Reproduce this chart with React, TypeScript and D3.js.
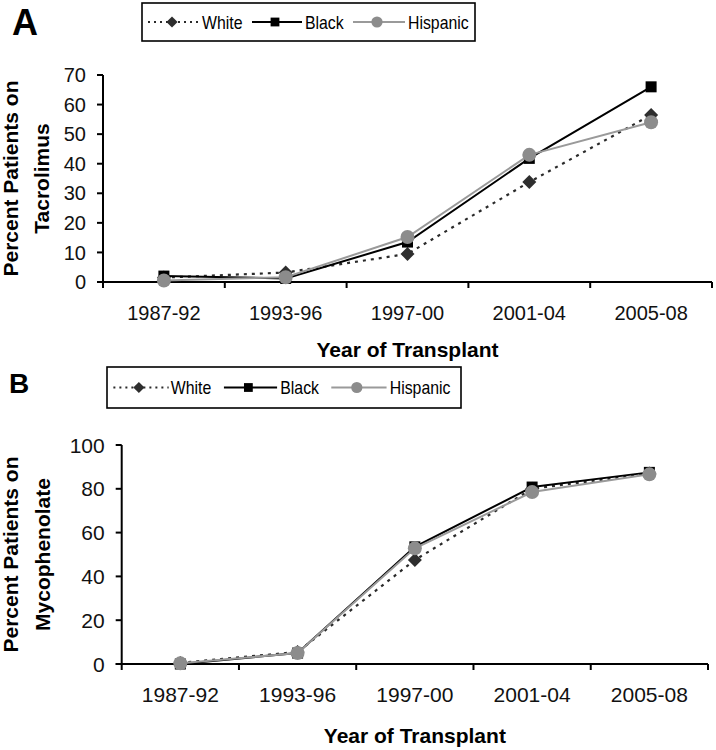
import React from "react";
import * as d3 from "d3";

const categories = ["1987-92", "1993-96", "1997-00", "2001-04", "2005-08"];
const seriesNames = ["White", "Black", "Hispanic"];

// Panel A: Tacrolimus
const tacWhite = [1.5, 3.2, 9.5, 33.8, 56.5];
const tacBlack = [2.0, 1.2, 13.5, 41.8, 66];
const tacHispanic = [0.5, 1.6, 15.2, 43, 54];
const tacTicks = [0, 10, 20, 30, 40, 50, 60, 70];

// Panel B: Mycophenolate
const mycWhite = [0.5, 5.5, 47.5, 80, 87];
const mycBlack = [0, 5, 53.5, 80.8, 87.5];
const mycHispanic = [0.3, 5, 52.8, 78.5, 86.6];
const mycTicks = [0, 20, 40, 60, 80, 100];

const FONT = "'Liberation Sans', Arial, Helvetica, sans-serif";

type Style = { stroke: string; dash?: string; width: number; marker: "diamond" | "square" | "circle"; fill: string };
const styles: Style[] = [
  { stroke: "#2a2a2a", dash: "3,5", width: 2.2, marker: "diamond", fill: "#2e2e2e" },
  { stroke: "#000000", width: 2, marker: "square", fill: "#000000" },
  { stroke: "#9a9a9a", width: 2, marker: "circle", fill: "#8c8c8c" },
];

function Marker({ kind, x, y, fill, s = 1 }: { kind: string; x: number; y: number; fill: string; s?: number }) {
  if (kind === "diamond") {
    const r = 7 * s;
    return <path d={`M${x},${y - r}L${x + r},${y}L${x},${y + r}L${x - r},${y}Z`} fill={fill} />;
  }
  if (kind === "square") {
    const h = 5.5 * s;
    return <rect x={x - h} y={y - h} width={2 * h} height={2 * h} fill={fill} />;
  }
  return <circle cx={x} cy={y} r={7 * s} fill={fill} />;
}

function Legend({ x, y, w, h, sx }: { x: number; y: number; w: number; h: number; sx: number }) {
  const ly = h / 2;
  const entries = [
    { l0: 6, l1: 58, m: 30, t: 60 },
    { l0: 110, l1: 160, m: 133, t: 163 },
    { l0: 211, l1: 263, m: 235, t: 266 },
  ];
  return (
    <g transform={`translate(${x},${y})`}>
      <rect x={0} y={0} width={w} height={h} fill="white" stroke="#000" strokeWidth={1.6} />
      {entries.map((e, i) => {
        const st = styles[i];
        return (
          <g key={i}>
            <line x1={e.l0 * sx} x2={e.l1 * sx} y1={ly} y2={ly} stroke={st.stroke} strokeWidth={st.width}
              strokeDasharray={st.dash ? "2,4" : undefined} />
            <Marker kind={st.marker} x={e.m * sx} y={ly} fill={st.fill} s={0.8} />
            <text transform={`translate(${e.t * sx},${ly + 6.5}) scale(0.88,1)`} fontSize={18} fontFamily={FONT} fill="#000">
              {seriesNames[i]}
            </text>
          </g>
        );
      })}
    </g>
  );
}

function Panel(props: {
  left: number; right: number; top: number; bottom: number; yMax: number; ticks: number[];
  series: number[][]; titleLines: string[]; tickFont: number; xTitleY: number; yTitleX: number[];
  letter: string; letterX: number; letterY: number; letterSize: number;
}) {
  const { left, right, top, bottom, yMax, ticks, series, titleLines, tickFont, xTitleY, yTitleX } = props;
  const x = d3.scaleBand<string>().domain(categories).range([left, right]).paddingInner(0).paddingOuter(0);
  const y = d3.scaleLinear().domain([0, yMax]).range([bottom, top]);
  const cx = (c: string) => (x(c) as number) + x.bandwidth() / 2;
  const line = d3.line<number>().x((_, i) => cx(categories[i])).y((v) => y(v));
  const boundaries = [...categories.map((c) => x(c) as number), right];
  const midY = (top + bottom) / 2;
  return (
    <g>
      <text x={props.letterX} y={props.letterY} fontSize={props.letterSize} fontWeight="bold" fontFamily={FONT}>{props.letter}</text>
      <line x1={left} x2={left} y1={top} y2={bottom} stroke="#000" strokeWidth={2} />
      {ticks.map((t) => (
        <g key={t}>
          <line x1={left - 6} x2={left} y1={y(t)} y2={y(t)} stroke="#000" strokeWidth={2} />
          <text x={left - 17} y={y(t)} dy="0.36em" textAnchor="end" fontSize={tickFont} fontFamily={FONT} fill="#111">{t}</text>
        </g>
      ))}
      <line x1={left - 6} x2={right} y1={bottom} y2={bottom} stroke="#000" strokeWidth={2} />
      {boundaries.map((b, i) => (
        <line key={i} x1={b} x2={b} y1={bottom} y2={bottom + 6} stroke="#000" strokeWidth={2} />
      ))}
      {categories.map((c) => (
        <text key={c} x={cx(c)} y={bottom + 38} textAnchor="middle" fontSize={tickFont} fontFamily={FONT} fill="#111">{c}</text>
      ))}
      <text x={(left + right) / 2} y={xTitleY} textAnchor="middle" fontSize={21} fontWeight="bold" fontFamily={FONT}>Year of Transplant</text>
      {titleLines.map((t, i) => (
        <text key={i} transform={`translate(${yTitleX[i]},${midY}) rotate(-90)`} textAnchor="middle" fontSize={21} fontWeight="bold" fontFamily={FONT}>{t}</text>
      ))}
      {series.map((vals, si) => {
        const st = styles[si];
        return (
          <g key={si}>
            <path d={line(vals) || ""} fill="none" stroke={st.stroke} strokeWidth={st.width} strokeDasharray={st.dash} />
            {vals.map((v, i) => (
              <Marker key={i} kind={st.marker} x={cx(categories[i])} y={y(v)} fill={st.fill} />
            ))}
          </g>
        );
      })}
    </g>
  );
}

export default function App() {
  return (
    <svg width={716} height={750} viewBox="0 0 716 750" style={{ position: "absolute", left: 0, top: 0, background: "#fff" }}>
      <rect x={0} y={0} width={716} height={750} fill="#fff" />
      <Panel left={103} right={712} top={75} bottom={282} yMax={70} ticks={tacTicks}
        series={[tacWhite, tacBlack, tacHispanic]} titleLines={["Percent Patients on", "Tacrolimus"]}
        tickFont={20} xTitleY={357} yTitleX={[18, 49]}
        letter="A" letterX={12} letterY={35} letterSize={36} />
      <Legend x={142} y={3} w={333} h={38} sx={1} />
      <Panel left={121.7} right={708} top={445} bottom={664} yMax={100} ticks={mycTicks}
        series={[mycWhite, mycBlack, mycHispanic]} titleLines={["Percent Patients on", "Mycophenolate"]}
        tickFont={21} xTitleY={743} yTitleX={[18, 50]}
        letter="B" letterX={9} letterY={393} letterSize={28} />
      <Legend x={107} y={367} w={354} h={41} sx={1.063} />
    </svg>
  );
}
